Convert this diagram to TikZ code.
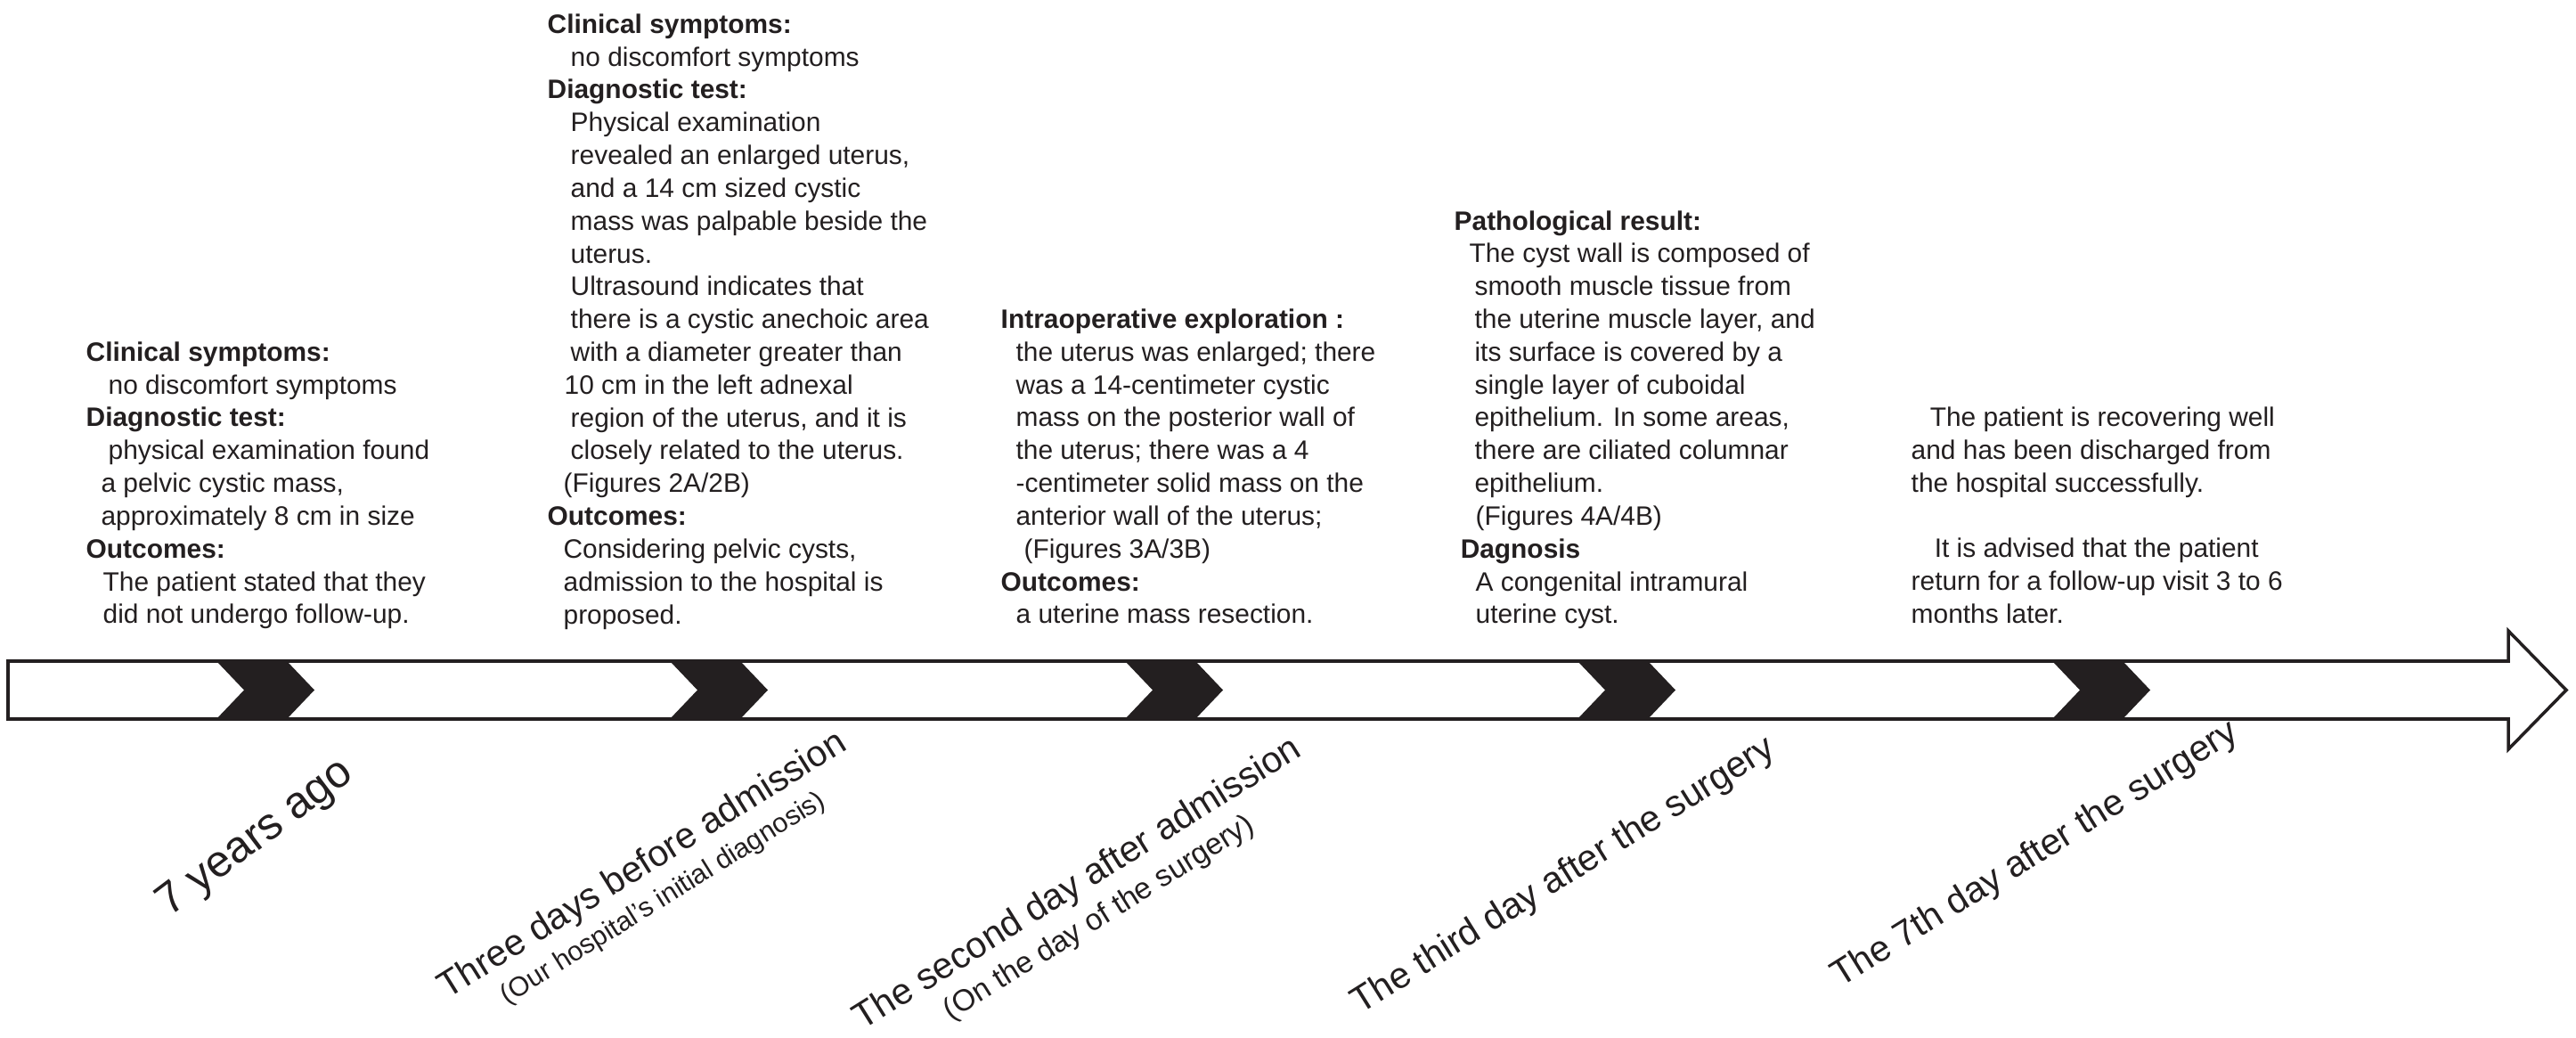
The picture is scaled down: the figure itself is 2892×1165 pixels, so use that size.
\documentclass[tikz,border=0pt]{standalone}
\usepackage{fontspec}
\setmainfont{Liberation Sans}
\definecolor{ink}{RGB}{35,31,32}
\begin{document}
\begin{tikzpicture}[x=0.01cm,y=-0.01cm,
  txt/.style={anchor=north west, inner sep=0pt, align=left, text=ink, font=\fontsize{8.5}{10.47}\selectfont},
  lab/.style={anchor=base west, inner sep=0pt, rotate=32, text=ink, font=\fontsize{11.7}{14}\selectfont},
  biglab/.style={anchor=base west, inner sep=0pt, rotate=37, text=ink, font=\fontsize{14.2}{17}\selectfont},
  sublab/.style={anchor=north, inner xsep=0pt, inner ysep=2.5pt, rotate=32, text=ink, font=\fontsize{8.7}{10}\selectfont},
  bar/.style={draw=ink, line width=1pt, fill=white, line join=miter}]
\useasboundingbox (0,0) rectangle (2892,1165);
\fill[white] (0,0) rectangle (2892,1165);
% timeline arrow
\draw[bar] (9,742) -- (2816,742) -- (2816,708) -- (2881,774.5) -- (2816,841) -- (2816,807) -- (9,807) -- cycle;
\foreach \x in {243,752,1263,1771,2304}
  \fill[ink] (\x,742) -- ++(79,0) -- ++(31,32.5) -- ++(-31,32.5) -- ++(-79,0) -- ++(31,-32.5) -- cycle;
% text blocks
\node[txt] (b1) at (96,378.8) {\strut\textbf{Clinical symptoms:}\\
\hspace*{7.1pt}no discomfort symptoms\\
\textbf{Diagnostic test:}\\
\hspace*{7.1pt}physical examination found\\
\hspace*{4.8pt}a pelvic cystic mass,\\
\hspace*{4.8pt}approximately 8 cm in size\\
\textbf{Outcomes:}\\
\hspace*{5.4pt}The patient stated that they\\
\hspace*{5.4pt}did not undergo follow-up.};
\node[txt] (b2) at (614,10.8) {\strut\textbf{Clinical symptoms:}\\
\hspace*{7.4pt}no discomfort symptoms\\
\textbf{Diagnostic test:}\\
\hspace*{7.4pt}Physical examination\\
\hspace*{7.4pt}revealed an enlarged uterus,\\
\hspace*{7.4pt}and a 14 cm sized cystic\\
\hspace*{7.4pt}mass was palpable beside the\\
\hspace*{7.4pt}uterus.\\
\hspace*{7.4pt}Ultrasound indicates that\\
\hspace*{7.4pt}there is a cystic anechoic area\\
\hspace*{7.4pt}with a diameter greater than\\
\hspace*{5.4pt}10 cm in the left adnexal\\
\hspace*{7.4pt}region of the uterus, and it is\\
\hspace*{7.4pt}closely related to the uterus.\\
\hspace*{5.1pt}(Figures 2A/2B)\\
\textbf{Outcomes:}\\
\hspace*{5.1pt}Considering pelvic cysts,\\
\hspace*{5.1pt}admission to the hospital is\\
\hspace*{5.1pt}proposed.};
\node[txt] (b3) at (1123,342) {\strut\textbf{Intraoperative exploration :}\\
\hspace*{4.8pt}the uterus was enlarged; there\\
\hspace*{4.8pt}was a 14-centimeter cystic\\
\hspace*{4.8pt}mass on the posterior wall of\\
\hspace*{4.8pt}the uterus; there was a 4\\
\hspace*{4.8pt}-centimeter solid mass on the\\
\hspace*{4.8pt}anterior wall of the uterus;\\
\hspace*{7.4pt}(Figures 3A/3B)\\
\textbf{Outcomes:}\\
\hspace*{4.8pt}a uterine mass resection.};
\node[txt] (b4) at (1632,231.6) {\strut\textbf{Pathological result:}\\
\hspace*{4.8pt}The cyst wall is composed of\\
\hspace*{6.5pt}smooth muscle tissue from\\
\hspace*{6.5pt}the uterine muscle layer, and\\
\hspace*{6.5pt}its surface is covered by a\\
\hspace*{6.5pt}single layer of cuboidal\\
\hspace*{6.5pt}epithelium. In some areas,\\
\hspace*{6.5pt}there are ciliated columnar\\
\hspace*{6.5pt}epithelium.\\
\hspace*{6.8pt}(Figures 4A/4B)\\
\hspace*{2pt}\textbf{Dagnosis}\\
\hspace*{6.8pt}A congenital intramural\\
\hspace*{6.8pt}uterine cyst.};
\node[txt] (b5) at (2145,452.2) {\strut\hspace*{6pt}The patient is recovering well\\
and has been discharged from\\
the hospital successfully.\\[10.47pt]
\hspace*{7.4pt}It is advised that the patient\\
return for a follow-up visit 3 to 6\\
months later.};
% rotated time labels
\node[biglab] (l1) at (190,1030) {7 years ago};
\node[lab] (l2) at (502,1122) {Three days before admission};
\node[sublab] (s2) at (l2.south) {(Our hospital's initial diagnosis)};
\node[lab] (l3) at (968,1157) {The second day after admission};
\node[sublab, font=\fontsize{9.6}{11}\selectfont] (s3) at (l3.south) {(On the day of the surgery)};
\node[lab] (l4) at (1527,1139) {The third day after the surgery};
\node[lab] (l5) at (2066,1109) {The 7th day after the surgery};
\end{tikzpicture}
\end{document}
